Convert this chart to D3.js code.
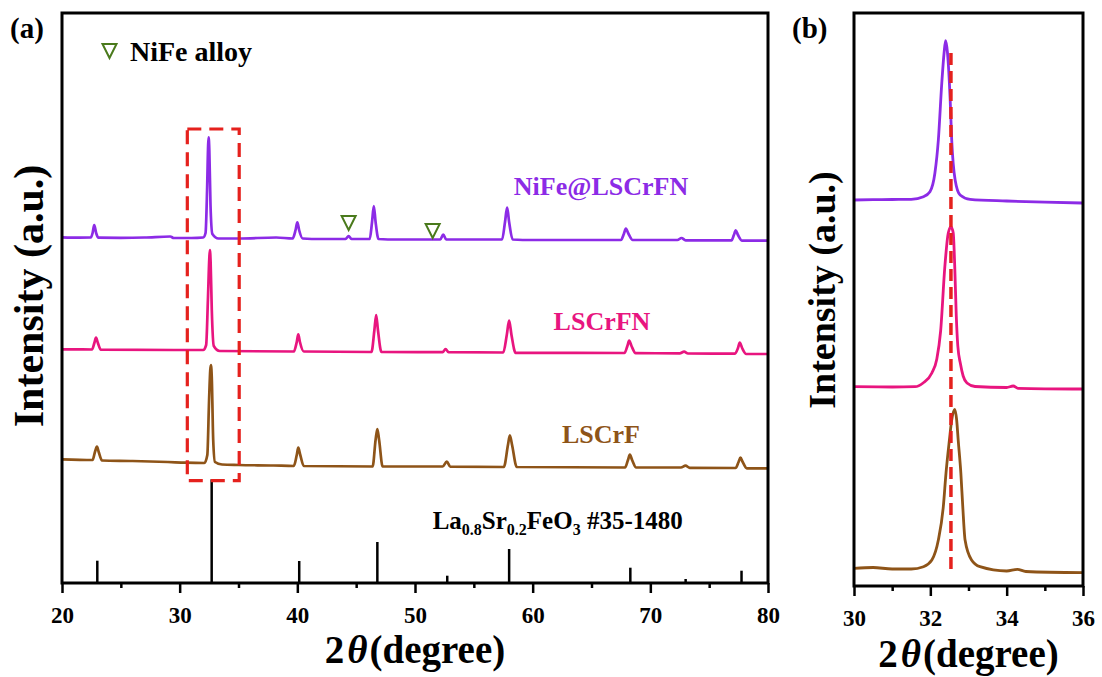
<!DOCTYPE html>
<html>
<head>
<meta charset="utf-8">
<script src="https://cdn.jsdelivr.net/npm/d3@7"></script>
<style>
  body { margin: 0; background: #fff; }
  svg text { font-family: "Liberation Serif", "Times New Roman", serif; font-weight: bold; }
</style>
</head>
<body>
<svg id="chart" width="1102" height="677"></svg>
<script>
// ---- data: XRD patterns (2theta, intensity a.u., curves stacked with offsets) ----
var nifeLSCrFN = [[20,345.7],[21.5,345.4],[22.45,345.5],[22.6,350],[22.74,358],[22.9,350],[23.1,345.4],[25,345.2],[27,345.5],
  [29.2,346.5],[29.5,345],[31,345],[32,345.5],[32.2,350],[32.33,393],[32.42,438],[32.46,445.7],[32.52,433],[32.62,378],[32.78,349],
  [33.3,344.5],[35,344.5],[38.2,345.5],[39.6,344.5],[39.85,353],[40,360.7],[40.15,353],[40.45,344.5],[42,344],[44.1,344],
  [44.36,347],[44.6,344],[46.15,344],[46.35,361],[46.5,377],[46.65,361],[46.9,344],[48.5,343.5],[52.15,343.5],[52.4,348.3],
  [52.65,343.5],[57.4,343.5],[57.65,361],[57.83,375.3],[58,361],[58.3,343.5],[60,343],[67.5,343],[67.75,349],[67.92,354.3],
  [68.15,349],[68.5,343],[72.3,343],[72.65,345],[73,342.7],[76.9,342.7],[77.1,348],[77.26,352.7],[77.45,348],[77.8,342.3],[80,342.3]];

var lscrfn = [[20,233.7],[22.55,233.5],[22.75,240],[22.89,245.3],[23.05,240],[23.3,233.3],[29.5,233],[32,233],[32.25,238],
  [32.4,283],[32.52,325],[32.57,333],[32.63,321],[32.73,273],[32.9,237],[33.4,232],[39.7,231.5],[39.95,241],[40.08,248.7],
  [40.22,241],[40.55,231.5],[46.3,231],[46.55,253],[46.7,268],[46.85,253],[47.15,231],[52.35,230.8],[52.6,234],[52.85,230.8],
  [57.5,230.5],[57.8,248],[58,262.3],[58.2,248],[58.55,230.2],[67.8,230],[68.05,237],[68.2,242.3],[68.4,237],[68.75,229.8],
  [72.5,229.7],[72.87,231.3],[73.2,229.5],[77.2,229.4],[77.45,235],[77.6,240.3],[77.8,235],[78.15,229],[80,229]];

var lscrf = [[20,123.7],[22.6,123],[22.8,131],[22.97,136.3],[23.12,131],[23.4,122.5],[26,122],[29,121],[30.5,120.3],[32.1,120],
  [32.35,128],[32.5,183],[32.6,213],[32.66,218],[32.73,205],[32.85,143],[33,121],[33.6,118.5],[35,118],[38,117.5],[39.7,117],
  [39.95,128],[40.08,135.3],[40.25,128],[40.55,117],[46.4,116.5],[46.65,143],[46.8,154],[46.95,143],[47.25,116.5],[52.35,116.5],
  [52.7,121.3],[53,116.3],[57.55,116],[57.9,138],[58.06,147.7],[58.25,138],[58.65,116],[67.85,115.5],[68.1,123],[68.26,128.3],
  [68.45,123],[68.8,115.5],[72.6,115.5],[72.99,117.3],[73.35,115.2],[77.25,115],[77.5,121],[77.66,125.3],[77.85,121],[78.2,114.7],[80,114.7]];

// PDF #35-1480 reference lines
var refPos = [23.0, 32.72, 40.16, 46.8, 52.74, 58.0, 68.3, 73.0, 77.75];
var refInt = [22.3, 103.7, 22, 41, 7.3, 34, 15.3, 4, 12.3];

// NiFe alloy markers (2theta, a.u. of marker tip)
var alloyMarks = [[44.36, 353], [51.5, 345]];

// zoomed (110) region
var zNiFe = [[30,386],[30.5,386.3],[31,386.5],[31.5,386.7],[31.82,389.3],[31.99,394.3],[32.12,413],[32.21,446],[32.3,503],
  [32.36,533],[32.4,545.3],[32.45,533],[32.52,486],[32.56,446],[32.65,406],[32.78,391],[33.04,386.7],[34,385],[35,383.8],[36,383]];
var zLSCrFN = [[30,199.3],[31,199],[31.6,199.3],[31.81,203],[32.04,213],[32.17,227],[32.27,255],[32.38,319.3],[32.47,353],
  [32.54,359],[32.6,353],[32.64,319],[32.68,270],[32.72,240],[32.79,222],[32.86,210],[32.96,203],[33.17,199.5],[34,198.5],[34.17,200],
  [34.3,197.7],[36,197]];
var zLSCrF = [[30,17.7],[30.5,18.5],[31,17],[31.5,17],[31.82,19.3],[32.04,26],[32.21,46],[32.34,79.3],[32.41,112.7],[32.5,146],
  [32.56,166],[32.64,176.7],[32.69,166],[32.73,146],[32.8,112.7],[32.85,79.3],[32.91,46],[33.08,26],[33.3,19.3],[34,15],
  [34.28,16.7],[34.5,14.5],[36,13.3]];
var refLine = 32.54;

var xTicksA = [20, 30, 40, 50, 60, 70, 80];
var xMinorA = [25, 35, 45, 55, 65, 75];
var xTicksB = [30, 32, 34, 36];
var xMinorB = [31, 33, 35];
var boxRange = [30.65, 35.06], boxInt = [102.3, 454];

var colors = {nife: '#8c2be6', lscrfn: '#e8157f', lscrf: '#8e5418', alloy: '#4a7a1c', red: '#e5211d'};

var svg = d3.select('#chart');

//面板设置
var xA = d3.scaleLinear().domain([20, 80]).range([62, 768]);
var yA = d3.scaleLinear().domain([0, 570]).range([583, 13]);
var xB = d3.scaleLinear().domain([30, 36]).range([854, 1083]);
var yB = d3.scaleLinear().domain([0, 573]).range([586, 13]);

function drawAxis(x, y, major, minor){
    var g = svg.append('g').attr('transform', 'translate(0,' + y.range()[0] + ')');
    g.call(d3.axisBottom(x).tickValues(major).tickSize(10).tickSizeOuter(0).tickPadding(14).tickFormat(d3.format('d')));
    g.select('.domain').remove();
    g.selectAll('.tick line').attr('stroke', '#000').attr('stroke-width', 2.5);
    g.selectAll('.tick text').attr('fill', '#000')
        .style('font-size', '23px').style('font-family', '"Liberation Serif", serif').style('font-weight', 'bold');
    var m = svg.append('g').attr('transform', 'translate(0,' + y.range()[0] + ')');
    m.call(d3.axisBottom(x).tickValues(minor).tickSize(5).tickSizeOuter(0).tickFormat(''));
    m.select('.domain').remove();
    m.selectAll('.tick line').attr('stroke', '#000').attr('stroke-width', 2.5);
    //边框
    svg.append('rect')
        .attr('x', x.range()[0]).attr('y', y.range()[1])
        .attr('width', x.range()[1] - x.range()[0]).attr('height', y.range()[0] - y.range()[1])
        .attr('fill', 'none').attr('stroke', '#000').attr('stroke-width', 3);
}

function axisTitles(x, y, yTitleX, yTitleY, ySize, xBase){
    var cx = (x.range()[0] + x.range()[1]) / 2;
    var t = svg.append('text').attr('x', cx).attr('y', xBase).attr('text-anchor', 'middle').attr('font-size', 39);
    t.append('tspan').text('2');
    t.append('tspan').attr('font-style', 'italic').attr('dx', 3).text('θ');
    t.append('tspan').attr('dx', 2).text('(degree)');
    svg.append('text')
        .attr('transform', 'translate(' + yTitleX + ',' + yTitleY + ') rotate(-90)')
        .attr('text-anchor', 'middle').attr('font-size', ySize)
        .text('Intensity (a.u.)');
}

// ---------- panel (a) ----------
var lineA = d3.line().x(d => xA(d[0])).y(d => yA(d[1])).curve(d3.curveMonotoneX);
[[nifeLSCrFN, colors.nife], [lscrfn, colors.lscrfn], [lscrf, colors.lscrf]].forEach(function(s){
    svg.append('path').datum(s[0]).attr('d', lineA)
        .attr('fill', 'none').attr('stroke', s[1]).attr('stroke-width', 2.7).attr('stroke-linejoin', 'round');
});

svg.append('g').selectAll('line')
    .data(refPos)
    .enter()
    .append('line')
    .attr('x1', d => xA(d)).attr('x2', d => xA(d))
    .attr('y1', yA(0)).attr('y2', (d, i) => yA(refInt[i]))
    .attr('stroke', '#000').attr('stroke-width', 2.5);

// 红色虚线框
svg.append('rect')
    .attr('x', xA(boxRange[0])).attr('y', yA(boxInt[1]))
    .attr('width', xA(boxRange[1]) - xA(boxRange[0])).attr('height', yA(boxInt[0]) - yA(boxInt[1]))
    .attr('fill', 'none').attr('stroke', colors.red).attr('stroke-width', 3.2).attr('stroke-dasharray', '14,8');

// 合金峰标记
function triPath(cx, tipY, w, h){
    return 'M' + (cx - w / 2) + ',' + (tipY - h) + 'L' + (cx + w / 2) + ',' + (tipY - h) + 'L' + cx + ',' + tipY + 'Z';
}
svg.append('g').selectAll('path')
    .data(alloyMarks)
    .enter()
    .append('path')
    .attr('d', d => triPath(xA(d[0]), yA(d[1]), 14, 14))
    .attr('fill', 'none').attr('stroke', colors.alloy).attr('stroke-width', 2);

// legend
svg.append('path').attr('d', triPath(109.5, 58, 14, 14))
    .attr('fill', 'none').attr('stroke', colors.alloy).attr('stroke-width', 2);
svg.append('text').attr('x', 130).attr('y', 61).attr('font-size', 28).text('NiFe alloy');

// 曲线标签
svg.append('text').attr('x', xA(65.81)).attr('y', yA(388)).attr('text-anchor', 'middle')
    .attr('font-size', 26).attr('fill', colors.nife).text('NiFe@LSCrFN');
svg.append('text').attr('x', xA(65.89)).attr('y', yA(253)).attr('text-anchor', 'middle')
    .attr('font-size', 26).attr('fill', colors.lscrfn).text('LSCrFN');
svg.append('text').attr('x', xA(65.8)).attr('y', yA(140.3)).attr('text-anchor', 'middle')
    .attr('font-size', 26).attr('fill', colors.lscrf).text('LSCrF');

var pdf = svg.append('text').attr('x', xA(51.5)).attr('y', yA(53.7)).attr('font-size', 25).attr('fill', '#000');
pdf.append('tspan').text('La');
pdf.append('tspan').attr('font-size', 16).attr('dy', 6).text('0.8');
pdf.append('tspan').attr('dy', -6).text('Sr');
pdf.append('tspan').attr('font-size', 16).attr('dy', 6).text('0.2');
pdf.append('tspan').attr('dy', -6).text('FeO');
pdf.append('tspan').attr('font-size', 16).attr('dy', 6).text('3');
pdf.append('tspan').attr('dy', -6).text(' #35-1480');

drawAxis(xA, yA, xTicksA, xMinorA);
axisTitles(xA, yA, 43, 296, 42, 663);
svg.append('text').attr('x', 10).attr('y', 38).attr('font-size', 29).text('(a)');

// ---------- panel (b) ----------
var lineB = d3.line().x(d => xB(d[0])).y(d => yB(d[1])).curve(d3.curveMonotoneX);
[[zNiFe, colors.nife], [zLSCrFN, colors.lscrfn], [zLSCrF, colors.lscrf]].forEach(function(s){
    svg.append('path').datum(s[0]).attr('d', lineB)
        .attr('fill', 'none').attr('stroke', s[1]).attr('stroke-width', 2.8).attr('stroke-linejoin', 'round');
});
svg.append('line')
    .attr('x1', xB(refLine)).attr('x2', xB(refLine))
    .attr('y1', yB(533)).attr('y2', yB(14))
    .attr('stroke', colors.red).attr('stroke-width', 3.5).attr('stroke-dasharray', '12,6');

drawAxis(xB, yB, xTicksB, xMinorB);
axisTitles(xB, yB, 835, 290, 38, 667);
svg.append('text').attr('x', 792).attr('y', 38).attr('font-size', 29).text('(b)');
</script>
</body>
</html>
